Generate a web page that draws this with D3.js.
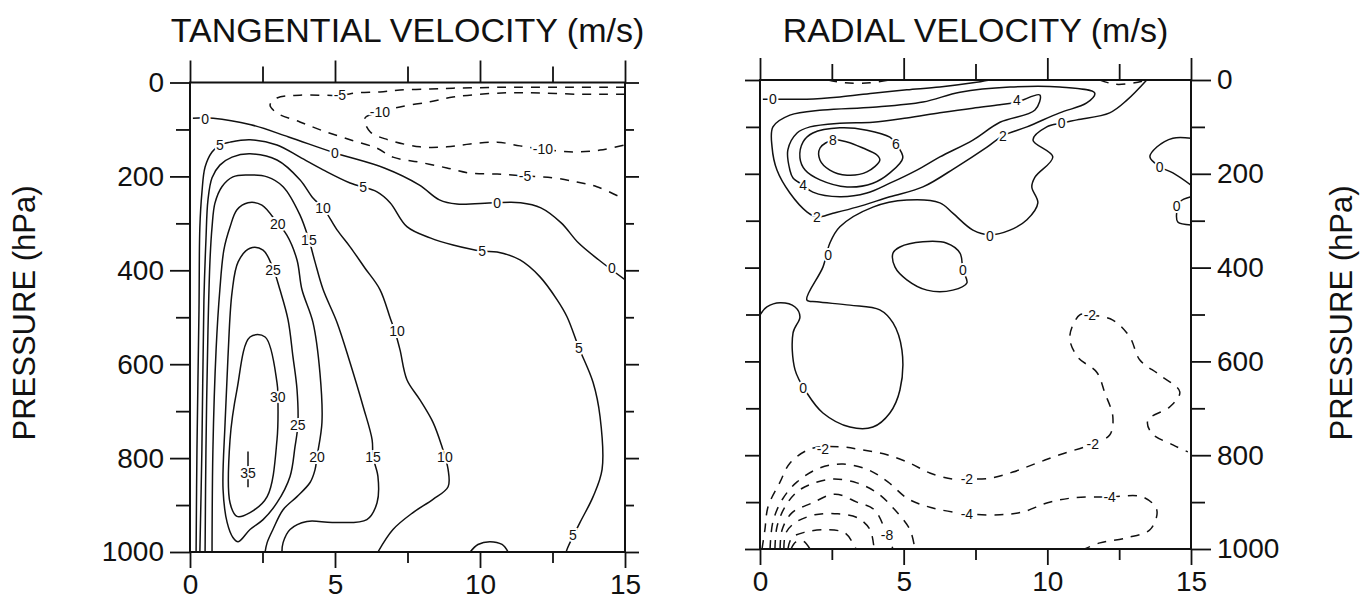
<!DOCTYPE html>
<html>
<head>
<meta charset="utf-8">
<script src="https://cdn.jsdelivr.net/npm/d3@7"></script>
<style>
  body { margin: 0; background: #fff; }
  text { font-family: "Liberation Sans", Arial, sans-serif; }
</style>
</head>
<body>
<svg id="chart" width="1363" height="611"></svg>
<script>
// axis ticks
const radiusTicks = [0, 5, 10, 15];
const radiusMinor = [2.5, 7.5, 12.5];
const pressTicks = [0, 200, 400, 600, 800, 1000];
const pressMinor = [100, 300, 500, 700, 900];

// tangential velocity contours, points are [radius, pressure hPa]
const tan0 = [[0.1,76],[0.8,76],[2.1,90],[3.4,116],[5.0,150],[6.7,182],[7.9,218],[8.6,250],[9.2,259],[10.5,256],[11.4,256],[12.1,267],[12.8,299],[13.4,342],[14.1,378],[15,420]];
const tan5 = [[0.21,1000],[0.24,782],[0.31,484],[0.34,308],[0.41,235],[0.52,180],[0.76,148],[1.03,133],[1.38,127],[2.07,122],[3.0,133],[3.79,159],[4.59,186],[5.52,214],[6.45,233],[6.9,256],[7.48,307],[8.28,331],[9.07,346],[10.07,359],[10.59,361],[11.38,378],[12.07,414],[12.66,463],[13.0,499],[13.41,565],[13.9,639],[14.14,712],[14.21,824],[13.9,882],[13.45,937],[13.03,990],[12.97,1000]];
const tan10 = [[0.34,1000],[0.41,782],[0.48,463],[0.55,335],[0.62,250],[0.76,203],[1.03,176],[1.45,159],[2.07,152],[3.0,165],[3.79,207],[4.24,246],[4.59,267],[5.07,314],[5.52,350],[6.03,395],[6.55,441],[6.9,501],[7.07,531],[7.24,569],[7.48,633],[7.93,676],[8.38,724],[8.69,776],[8.79,797],[8.9,824],[8.9,861],[8.38,888],[7.69,916],[7.0,952],[6.48,1000]];
const tan10b = [[9.66,1000],[9.93,984],[10.34,978],[10.76,984],[10.97,1000]];
const tan15 = [[0.52,1000],[0.55,782],[0.62,527],[0.69,378],[0.76,308],[0.86,257],[1.10,222],[1.48,201],[1.97,197],[2.66,201],[3.21,222],[3.79,282],[4.10,335],[4.31,382],[4.59,441],[5.07,511],[5.52,597],[5.97,690],[6.28,761],[6.31,797],[6.48,839],[6.45,895],[6.10,931],[4.93,937],[4.03,935],[3.45,952],[3.21,980],[3.17,1000]];
const tan20 = [[0.76,1000],[0.79,782],[0.90,569],[1.03,441],[1.17,356],[1.38,308],[1.62,271],[2.0,256],[2.48,261],[3.03,301],[3.34,325],[3.69,378],[3.86,441],[4.24,511],[4.48,618],[4.55,724],[4.38,797],[4.31,825],[4.14,852],[3.69,882],[3.21,910],[2.86,952],[2.66,980],[2.59,1000]];
const tan25 = [[2.07,353],[2.52,357],[2.86,395],[3.10,441],[3.38,505],[3.55,584],[3.69,654],[3.72,729],[3.62,776],[3.45,839],[3.0,895],[2.52,931],[2.07,952],[1.66,978],[1.48,969],[1.28,937],[1.14,867],[1.21,724],[1.31,584],[1.45,447],[1.66,382]];
const tan30 = [[2.07,542],[2.59,542],[3.0,639],[3.03,669],[3.0,761],[2.66,882],[2.07,916],[1.62,924],[1.38,895],[1.38,761],[1.62,654]];
const tan35 = [[2.0,786],[2.0,862]];
const tanNeg5 = [[15,10],[14.38,10],[13.45,10],[12.66,10],[11.72,10],[10.93,10],[10.0,11],[9.07,12],[8.28,14],[7.24,16],[6.55,20],[5.76,22],[5.17,27],[3.79,27],[3.0,33],[2.76,48],[3.0,65],[3.79,84],[4.59,103],[5.52,122],[6.45,140],[7.0,159],[7.93,170],[8.86,182],[9.66,193],[10.59,195],[11.55,199],[12.52,203],[13.34,212],[14.03,222],[14.83,244],[15,250]];
const tanNeg10 = [[15,25],[14.38,25],[13.45,25],[11.72,22],[10.93,22],[10.0,25],[9.07,31],[8.28,41],[7.24,52],[6.55,63],[6.03,76],[6.21,105],[6.83,122],[7.93,137],[8.86,137],[9.66,131],[10.59,127],[11.38,135],[12.17,142],[13.21,148],[14.14,144],[15,133]];
const tanLabels = [["0",0.52,78],["0",5.0,150],["0",10.59,256],["0",14.55,395],
  ["5",1.03,133],["5",5.97,222],["5",10.07,359],["5",13.41,565],["5",13.2,963],
  ["10",4.59,267],["10",7.14,529],["10",8.79,797],["15",4.1,335],["15",6.31,797],
  ["20",3.03,301],["20",4.38,797],["25",2.86,399],["25",3.72,729],["30",3.03,669],["35",2.0,831],
  ["-5",5.17,27],["-5",11.55,199],["-10",6.55,63],["-10",12.17,142]];

// radial velocity contours
const rad0a = [[0.1,41],[0.7,41],[1.63,41],[2.78,36],[3.93,28],[5.11,21],[6.26,15],[7.41,6],[8.0,0]];
const rad0b = [[13.46,0],[12.77,43],[12.17,70],[11.03,85],[10.5,92],[9.98,100],[9.5,128],[10.19,164],[9.57,207],[9.46,228],[9.67,262],[9.29,298],[8.7,320],[8.0,330],[7.41,320],[6.71,284],[6.26,262],[5.11,256],[3.93,271],[2.78,313],[2.43,348],[2.19,399],[1.63,469],[1.98,473],[3.13,480],[4.17,490],[4.63,518],[4.94,576],[4.87,661],[4.52,710],[3.93,740],[3.13,740],[2.19,710],[1.63,667],[1.22,618],[1.15,539],[1.39,505],[1.22,484],[0.7,475],[0.24,484],[0,501]];
const rad0c = [[4.63,369],[4.87,356],[5.67,345],[6.5,348],[6.96,369],[7.06,405],[7.2,433],[6.71,448],[5.81,448],[5.11,426],[4.7,399]];
const rad0d = [[15,124],[14.37,124],[13.81,143],[13.57,164],[13.91,185],[14.37,198],[15,224]];
const rad0e = [[15,249],[14.61,260],[14.5,284],[14.54,303],[15,309]];
const rad2 = [[0.45,100],[1.04,75],[2.19,64],[3.93,58],[5.67,47],[6.96,26],[8.7,15],[10.43,15],[11.65,28],[11.37,49],[10.43,70],[9.29,100],[8.45,119],[7.9,143],[6.85,185],[5.67,228],[4.52,249],[3.37,271],[2.54,284],[1.98,292],[1.63,281],[1.04,241],[0.59,192],[0.42,143]];
const rad4 = [[1.04,192],[0.97,149],[1.29,113],[1.74,100],[2.78,92],[3.93,90],[5.11,81],[6.26,70],[7.41,60],[8.35,53],[8.94,47],[9.74,32],[9.57,64],[8.35,90],[7.41,128],[6.26,164],[5.46,192],[4.52,220],[3.72,241],[2.78,249],[1.84,239],[1.5,224],[1.15,209]];
const rad6 = [[1.39,166],[1.5,132],[1.84,113],[2.78,102],[3.72,107],[4.52,122],[4.73,136],[4.97,166],[4.52,198],[3.93,220],[3.03,228],[2.09,213],[1.57,192]];
const rad8 = [[2.09,145],[2.09,171],[2.43,192],[3.03,203],[3.72,196],[4.17,171],[4.07,160],[3.58,145],[3.03,132],[2.54,128]];
const radNeg2 = [[0.07,1000],[0.17,959],[0.28,910],[0.7,857],[1.04,817],[1.74,787],[2.78,782],[3.58,789],[4.42,799],[5.22,817],[5.91,838],[6.71,851],[7.2,851],[8.0,849],[8.8,836],[9.63,817],[10.43,799],[11.58,776],[12.17,757],[12.28,718],[12.0,667],[11.72,623],[11.06,591],[10.78,548],[11.13,501],[11.48,501],[12.28,512],[12.87,548],[13.22,597],[13.91,629],[14.61,665],[14.26,697],[13.5,725],[13.63,753],[14.37,778],[14.89,793]];
const radNeg4 = [[0.35,1000],[0.45,942],[0.77,895],[1.29,857],[2.09,827],[2.89,819],[3.76,831],[4.45,857],[5.15,893],[5.98,912],[7.2,925],[8.35,927],[9.15,921],[9.98,902],[10.89,891],[12.17,889],[13.32,889],[13.81,917],[13.57,959],[12.77,976],[11.83,987],[11.3,1000]];
const radNeg6 = [[0.52,1000],[0.59,953],[0.87,910],[1.29,878],[1.81,861],[2.54,851],[3.37,859],[4.07,880],[4.7,917],[5.22,959],[5.39,1000]];
const radNeg8 = [[0.7,1000],[0.77,959],[1.11,923],[1.81,902],[2.61,883],[3.37,900],[3.99,917],[4.42,970],[4.63,1000]];
const radNeg10 = [[0.83,1000],[0.9,966],[1.22,944],[1.91,927],[2.71,925],[3.41,934],[3.83,959],[3.97,1000]];
const radNeg12 = [[0.97,1000],[1.11,976],[1.57,964],[2.26,959],[2.96,966],[3.34,1000]];
const radNeg14 = [[1.08,1000],[1.25,985],[1.5,983],[1.74,1000]];
const radTopA = [[2.37,0],[2.96,6],[3.83,6],[4.52,0]];
const radTopB = [[11.83,0],[12.35,9],[13.04,6],[13.46,0]];
const radLabels = [["0",0.45,41],["4",8.94,43],["8",2.54,128],["6",4.73,136],["4",1.5,224],
  ["2",1.98,292],["2",8.45,119],["0",10.5,92],["0",13.91,185],["0",14.5,269],
  ["0",8.0,333],["0",2.37,373],["0",7.06,405],["0",1.5,657],
  ["-2",11.48,501],["-2",2.19,787],["-2",11.58,776],["-2",7.2,851],
  ["-4",7.2,925],["-4",12.17,889],["-8",4.42,970]];

const svg = d3.select("#chart");

function drawPanel(cfg) {
    const x = d3.scaleLinear().domain([0, 15]).range([cfg.left, cfg.right]);
    const y = d3.scaleLinear().domain([0, 1000]).range([cfg.top, cfg.bottom]);
    const g = svg.append("g");

    g.append("clipPath").attr("id", cfg.id)
        .append("rect")
        .attr("x", cfg.left).attr("y", cfg.top)
        .attr("width", cfg.right - cfg.left).attr("height", cfg.bottom - cfg.top);

    const openLine = d3.line().x(d => x(d[0])).y(d => y(d[1])).curve(d3.curveCatmullRom.alpha(0.5));
    const closedLine = d3.line().x(d => x(d[0])).y(d => y(d[1])).curve(d3.curveCatmullRomClosed.alpha(0.5));

    g.append("g")
        .attr("clip-path", `url(#${cfg.id})`)
        .selectAll("path")
        .data(cfg.contours)
        .enter()
        .append("path")
        .attr("d", d => d.closed ? closedLine(d.pts) : openLine(d.pts))
        .attr("fill", "none")
        .attr("stroke", "#111")
        .attr("stroke-width", 1.5)
        .attr("stroke-dasharray", d => d.level < 0 ? "9,8" : null);

    g.append("g")
        .selectAll("text")
        .data(cfg.labels)
        .enter()
        .append("text")
        .attr("x", d => x(d[1]))
        .attr("y", d => y(d[2]))
        .attr("text-anchor", "middle")
        .attr("dominant-baseline", "central")
        .attr("font-size", 14)
        .attr("stroke", "#fff")
        .attr("stroke-width", 4)
        .attr("paint-order", "stroke")
        .attr("fill", "#111")
        .text(d => d[0]);

    // frame
    g.append("rect")
        .attr("x", cfg.left).attr("y", cfg.top)
        .attr("width", cfg.right - cfg.left).attr("height", cfg.bottom - cfg.top)
        .attr("fill", "none").attr("stroke", "#111").attr("stroke-width", 2);

    function axis(gen, pos, vals, size, labels) {
        const a = g.append("g")
            .attr("transform", pos)
            .call(gen.tickValues(vals).tickSize(size).tickPadding(6)
                .tickFormat(labels ? d3.format("d") : ""));
        a.select(".domain").remove();
        a.selectAll("line").attr("stroke", "#111").attr("stroke-width", 1.8);
        a.selectAll("text").attr("font-size", 28).attr("fill", "#111")
            .attr("font-family", "'Liberation Sans', Arial, sans-serif");
        return a;
    }

    axis(d3.axisTop(x), `translate(0,${cfg.top})`, radiusTicks, 22, false);
    axis(d3.axisTop(x), `translate(0,${cfg.top})`, radiusMinor, 16, false);
    axis(d3.axisBottom(x), `translate(0,${cfg.bottom})`, radiusTicks, 16, true);
    axis(d3.axisBottom(x), `translate(0,${cfg.bottom})`, radiusMinor, 11, false);
    axis(d3.axisLeft(y), `translate(${cfg.left},0)`, pressTicks, cfg.leftLabels ? 20 : 15, cfg.leftLabels);
    axis(d3.axisLeft(y), `translate(${cfg.left},0)`, pressMinor, 14, false);
    axis(d3.axisRight(y), `translate(${cfg.right},0)`, pressTicks, cfg.leftLabels ? 14 : 20, !cfg.leftLabels);
    axis(d3.axisRight(y), `translate(${cfg.right},0)`, pressMinor, cfg.leftLabels ? 9 : 14, false);

    svg.append("text")
        .attr("x", (cfg.left + cfg.right) / 2)
        .attr("y", 42)
        .attr("text-anchor", "middle")
        .attr("font-size", 34)
        .attr("fill", "#111")
        .text(cfg.title);

    svg.append("text")
        .attr("transform", `translate(${cfg.yTitleX},313) rotate(-90)`)
        .attr("text-anchor", "middle")
        .attr("font-size", 31)
        .attr("fill", "#111")
        .text("PRESSURE (hPa)");
}

drawPanel({
    id: "clipTan", left: 190, right: 625, top: 82.5, bottom: 552,
    title: "TANGENTIAL VELOCITY (m/s)", leftLabels: true, yTitleX: 35,
    contours: [
        { level: 0, pts: tan0 }, { level: 5, pts: tan5 }, { level: 10, pts: tan10 },
        { level: 10, pts: tan10b }, { level: 15, pts: tan15 }, { level: 20, pts: tan20 },
        { level: 25, pts: tan25, closed: true }, { level: 30, pts: tan30, closed: true },
        { level: 35, pts: tan35 }, { level: -5, pts: tanNeg5 }, { level: -10, pts: tanNeg10 }
    ],
    labels: tanLabels
});

drawPanel({
    id: "clipRad", left: 760, right: 1191, top: 80, bottom: 549,
    title: "RADIAL VELOCITY (m/s)", leftLabels: false, yTitleX: 1352,
    contours: [
        { level: 0, pts: rad0a }, { level: 0, pts: rad0b }, { level: 0, pts: rad0c, closed: true },
        { level: 0, pts: rad0d }, { level: 0, pts: rad0e },
        { level: 2, pts: rad2, closed: true }, { level: 4, pts: rad4, closed: true },
        { level: 6, pts: rad6, closed: true }, { level: 8, pts: rad8, closed: true },
        { level: -2, pts: radNeg2 }, { level: -4, pts: radNeg4 }, { level: -6, pts: radNeg6 },
        { level: -8, pts: radNeg8 }, { level: -10, pts: radNeg10 }, { level: -12, pts: radNeg12 },
        { level: -14, pts: radNeg14 }, { level: -2, pts: radTopA }, { level: -2, pts: radTopB }
    ],
    labels: radLabels
});
</script>
</body>
</html>
